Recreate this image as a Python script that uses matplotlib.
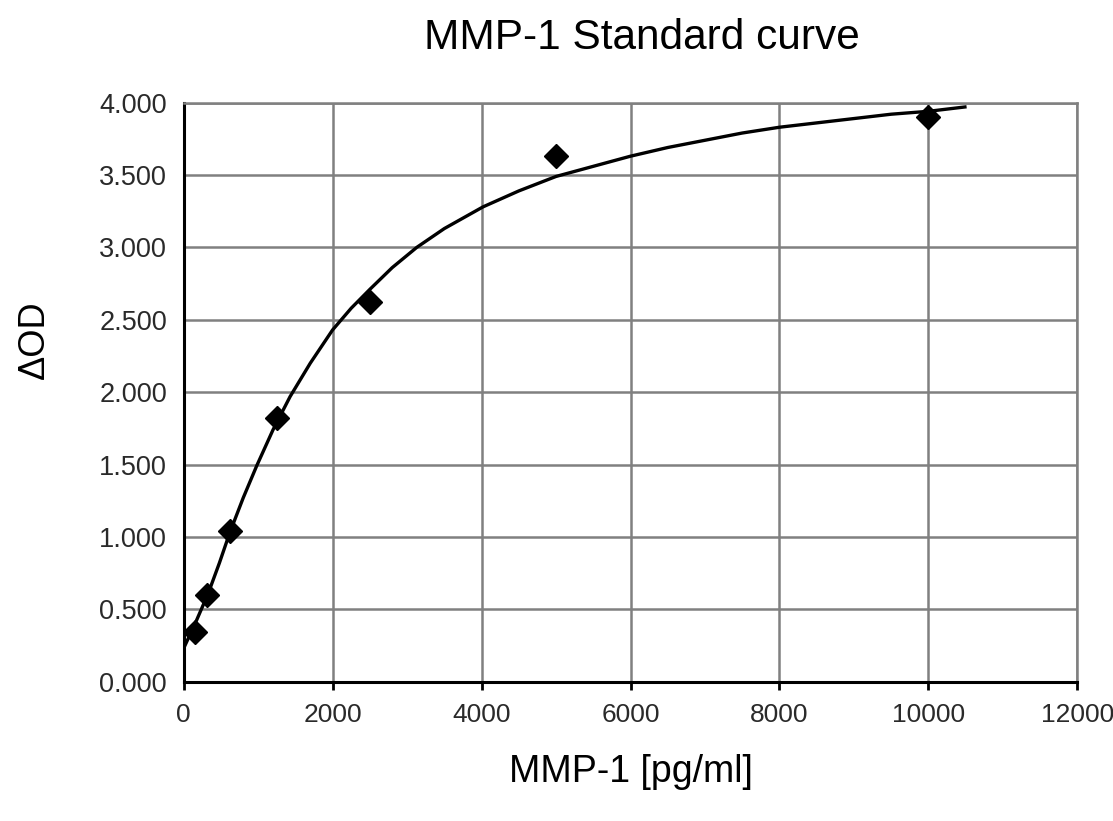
import matplotlib as mpl
mpl.use("Agg")
import matplotlib.pyplot as plt
from matplotlib.ticker import FormatStrFormatter

# standards (pg/ml) and measured delta OD
conc = [156, 313, 625, 1250, 2500, 5000, 10000]
delta_od = [0.34, 0.60, 1.04, 1.82, 2.62, 3.63, 3.90]

# fitted standard curve
curve_x = [0, 170, 330, 480, 620, 800, 980, 1200, 1430, 1700, 2000, 2250,
           2500, 2800, 3130, 3500, 4020, 4500, 5000, 5500, 6000, 6500, 7000,
           7500, 8000, 8500, 9000, 9500, 10000, 10490]
curve_y = [0.23, 0.42, 0.61, 0.82, 1.03, 1.27, 1.49, 1.74, 1.97, 2.20, 2.43, 2.58,
           2.71, 2.86, 3.00, 3.13, 3.28, 3.39, 3.49, 3.56, 3.63, 3.69, 3.74,
           3.79, 3.83, 3.86, 3.89, 3.92, 3.94, 3.97]

x_ticks = [0, 2000, 4000, 6000, 8000, 10000, 12000]
y_ticks = [0, 0.5, 1.0, 1.5, 2.0, 2.5, 3.0, 3.5, 4.0]

plt.rcParams["font.family"] = ["Liberation Sans", "DejaVu Sans"]

fig = plt.figure(figsize=(11.13, 8.21), dpi=100)
ax = fig.add_axes([0.165, 0.1697, 0.803, 0.7053])

ax.plot(curve_x, curve_y, color="black", lw=2.4, zorder=3, solid_joinstyle="round")
ax.plot(conc, delta_od, linestyle="none", marker="D", ms=12, color="black", zorder=4)

ax.set_xlim(0, 12000)
ax.set_ylim(0, 4.0)
ax.set_xticks(x_ticks)
ax.set_yticks(y_ticks)
ax.yaxis.set_major_formatter(FormatStrFormatter("%.3f"))
ax.grid(True, color="#808080", lw=1.8)
ax.set_axisbelow(True)

for side in ["top", "right"]:
    ax.spines[side].set_color("#808080")
    ax.spines[side].set_linewidth(1.8)
for side in ["left", "bottom"]:
    ax.spines[side].set_color("black")
    ax.spines[side].set_linewidth(2.2)

ax.tick_params(axis="x", direction="out", length=6, width=2, labelsize=19, pad=9, colors="black")
ax.tick_params(axis="y", length=0, labelsize=19.5, pad=12)
for lab in ax.get_xticklabels() + ax.get_yticklabels():
    lab.set_color("#2a2a2a")

ax.set_xlabel("MMP-1 [pg/ml]", fontsize=27, labelpad=20)
ax.set_ylabel("ΔOD", fontsize=26)
ax.yaxis.set_label_coords(-0.147, 0.59)

fig.text(0.577, 1 - 38 / 821, "MMP-1 Standard curve", fontsize=30.5, ha="center", va="center")

fig.savefig("out.png", dpi=100)
